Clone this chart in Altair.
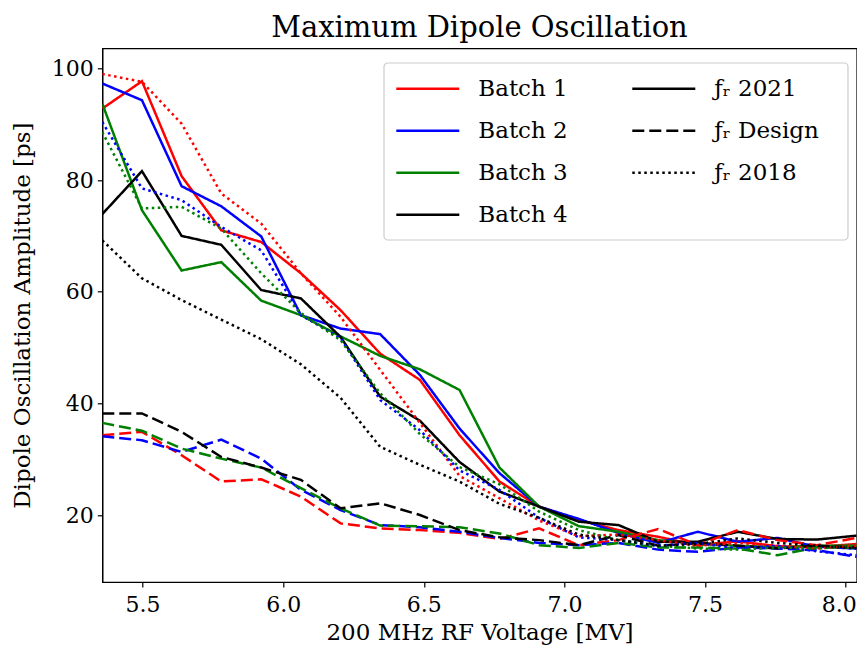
import altair as alt
import pandas as pd

# x grid (200 MHz RF voltage, MV)
voltage = [5.357, 5.498, 5.639, 5.780, 5.922, 6.063, 6.204, 6.345, 6.486, 6.627,
           6.769, 6.910, 7.051, 7.192, 7.333, 7.474, 7.616, 7.757, 7.898, 8.039]

batches = ["Batch 1", "Batch 2", "Batch 3", "Batch 4"]
colors = ["#ff0000", "#0000ff", "#008000", "#000000"]
styles = ["ƒᵣ 2021", "ƒᵣ Design", "ƒᵣ 2018"]

# fr 2021 (solid)
b1_2021 = [92.8, 97.7, 80.7, 71.0, 68.9, 63.3, 56.7, 48.9, 44.2, 34.3, 26.0, 21.5, 19.1, 17.3, 16.1, 14.6, 15.3, 14.4, 14.3, 14.8]
b2_2021 = [97.3, 94.3, 78.9, 75.3, 69.9, 55.8, 53.4, 52.4, 45.1, 35.5, 27.5, 21.5, 19.3, 16.8, 15.0, 17.0, 15.2, 15.9, 14.3, 14.0]
b3_2021 = [93.7, 74.6, 63.8, 65.3, 58.4, 55.8, 52.0, 48.5, 46.1, 42.4, 28.5, 21.5, 18.0, 17.0, 15.5, 14.8, 14.5, 14.2, 14.5, 14.5]
b4_2021 = [73.9, 81.6, 70.0, 68.4, 60.3, 58.8, 51.9, 41.2, 36.9, 29.5, 24.2, 21.5, 18.8, 18.2, 15.2, 15.2, 17.0, 15.7, 15.6, 16.3]

# fr Design (dashed)
b1_design = [34.3, 34.9, 30.7, 26.0, 26.4, 23.3, 18.5, 17.6, 17.3, 16.8, 15.7, 17.6, 14.6, 15.5, 17.5, 14.6, 17.3, 15.5, 14.6, 15.9]
b2_design = [34.1, 33.4, 31.3, 33.5, 30.1, 24.5, 20.9, 18.2, 17.8, 17.0, 15.9, 15.0, 14.6, 15.0, 13.8, 13.4, 14.2, 14.0, 13.7, 12.5]
b3_design = [36.5, 35.1, 31.9, 30.1, 28.5, 24.8, 21.2, 18.1, 18.0, 17.8, 16.7, 14.6, 14.1, 15.0, 14.2, 14.2, 14.0, 12.8, 14.2, 14.2]
b4_design = [38.2, 38.2, 34.9, 30.4, 28.5, 26.3, 21.2, 22.1, 20.0, 17.3, 16.0, 15.5, 14.6, 16.4, 14.5, 15.0, 14.5, 14.0, 14.5, 14.2]

# fr 2018 (dotted)
b1_2018 = [99.0, 97.6, 90.1, 77.6, 72.2, 63.3, 55.5, 46.0, 36.5, 27.0, 23.0, 19.0, 16.2, 16.5, 15.5, 14.5, 15.0, 14.5, 14.0, 14.5]
b2_2018 = [90.4, 78.5, 76.4, 71.6, 67.4, 55.8, 51.7, 40.6, 35.2, 28.0, 24.5, 19.5, 16.0, 15.5, 14.5, 15.0, 14.0, 14.5, 13.5, 12.8]
b3_2018 = [88.6, 74.9, 75.2, 71.3, 63.3, 56.2, 51.3, 41.8, 34.5, 28.6, 25.5, 20.6, 17.3, 15.5, 14.5, 14.0, 13.8, 14.2, 14.0, 14.5]
b4_2018 = [69.2, 62.4, 58.5, 55.0, 51.5, 47.0, 41.0, 32.2, 29.0, 26.0, 22.0, 19.5, 16.5, 15.5, 14.5, 14.8, 15.8, 15.0, 14.5, 14.0]

series = {
    ("Batch 1", styles[0]): b1_2021, ("Batch 2", styles[0]): b2_2021,
    ("Batch 3", styles[0]): b3_2021, ("Batch 4", styles[0]): b4_2021,
    ("Batch 1", styles[1]): b1_design, ("Batch 2", styles[1]): b2_design,
    ("Batch 3", styles[1]): b3_design, ("Batch 4", styles[1]): b4_design,
    ("Batch 1", styles[2]): b1_2018, ("Batch 2", styles[2]): b2_2018,
    ("Batch 3", styles[2]): b3_2018, ("Batch 4", styles[2]): b4_2018,
}

rows = []
for (b, s), vals in series.items():
    for xv, yv in zip(voltage, vals):
        rows.append({"voltage": xv, "amp": yv, "batch": b, "style": s, "key": b + s})
df = pd.DataFrame(rows)

FONT = "DejaVu Serif"
SYM = "M-1.75,0H1.75"

lines = alt.Chart(df).mark_line(strokeWidth=2.5, clip=True).encode(
    x=alt.X("voltage:Q", scale=alt.Scale(domain=[5.357, 8.039], nice=False, zero=False),
            axis=alt.Axis(values=[5.5, 6.0, 6.5, 7.0, 7.5, 8.0], format=".1f",
                          labelFlush=15, labelFlushOffset=10.5,
                          title="200 MHz RF Voltage [MV]")),
    y=alt.Y("amp:Q", scale=alt.Scale(domain=[8.0, 103.6], nice=False, zero=False),
            axis=alt.Axis(values=[20, 40, 60, 80, 100],
                          title="Dipole Oscillation Amplitude [ps]")),
    color=alt.Color("batch:N", scale=alt.Scale(domain=batches, range=colors),
                    legend=alt.Legend(orient="none", legendX=306, legendY=21, title=None,
                                      symbolType=SYM, symbolSize=1296, symbolStrokeWidth=2.5,
                                      labelFont=FONT, labelFontSize=23, labelColor="black",
                                      labelOffset=31, rowPadding=10, padding=0, labelLimit=0)),
    strokeDash=alt.StrokeDash("style:N", scale=alt.Scale(domain=styles,
                              range=[[1, 0], [12, 5], [2.5, 3.5]]),
                              legend=alt.Legend(orient="none", legendX=542, legendY=21, title=None,
                                                symbolType=SYM, symbolSize=1296, symbolStrokeWidth=2.5,
                                                symbolStrokeColor="black",
                                                labelFont=FONT, labelFontSize=23, labelColor="black",
                                                labelOffset=31, rowPadding=10, padding=0, labelLimit=0)),
    detail="key:N",
)

box = alt.Chart(pd.DataFrame({"a": [0]})).mark_rect(
    fill="white", stroke="#cccccc", strokeWidth=1.2, cornerRadius=4
).encode(x=alt.value(281.7), x2=alt.value(745.7), y=alt.value(14.7), y2=alt.value(191.7))

chart = alt.layer(lines, box).properties(
    width=754.4, height=533.7,
    title=alt.TitleParams("Maximum Dipole Oscillation", font=FONT, fontSize=29,
                          fontWeight="normal", color="black", offset=5),
    autosize=alt.AutoSizeParams(type="none"),
    padding={"left": 94.3, "top": 40.3, "right": 0, "bottom": 63},
).configure_view(stroke="black", strokeWidth=1.2).configure_axis(
    grid=False, domainColor="black", domainWidth=1.2, tickColor="black", tickWidth=1.2,
    tickSize=5, labelFont=FONT, labelFontSize=22, labelColor="black",
    titleFont=FONT, titleFontSize=23, titleColor="black", titleFontWeight="normal",
).configure_axisX(labelPadding=8, titlePadding=6).configure_axisY(labelPadding=4, titlePadding=17)

chart.save("out.html", embed_options={"renderer": "svg", "actions": False})
